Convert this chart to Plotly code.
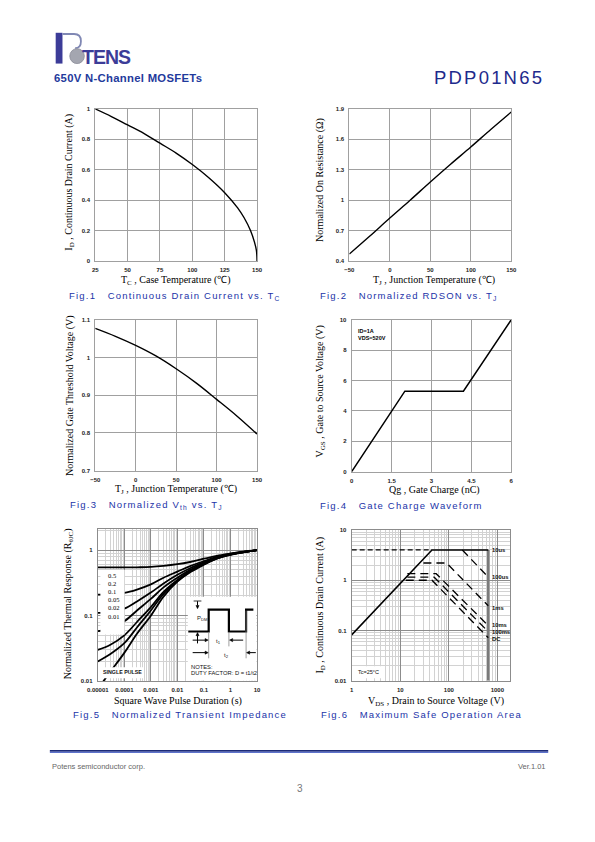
import math
import plotly.graph_objects as go

W, H = 595, 842

# ---------------- data ----------------
# Fig.1  Continuous drain current vs case temperature
TC_CASE = [25, 37.5, 50, 62.5, 75, 87.5, 100, 112.5, 125, 135, 140, 145, 148, 149.5, 150]
ID_CONT = [1.0, 0.95, 0.895, 0.84, 0.775, 0.71, 0.635, 0.55, 0.45, 0.35, 0.285, 0.2, 0.125, 0.07, 0.0]

# Fig.2  Normalized RDSON vs junction temperature
TJ_RDS = [-50, -25, 0, 25, 50, 75, 100, 125, 150]
RDS_NORM = [0.47, 0.645, 0.825, 1.0, 1.18, 1.355, 1.525, 1.70, 1.87]

# Fig.3  Normalized Vth vs junction temperature
TJ_VTH = [-50, -25, 0, 25, 50, 75, 100, 125, 150]
VTH_NORM = [1.077, 1.056, 1.032, 1.004, 0.97, 0.932, 0.889, 0.845, 0.797]

# Fig.4  Gate charge waveform
QG_NC = [0, 2.0, 4.2, 6.0]
VGS_V = [0, 5.3, 5.3, 10.0]

# Fig.5  Normalized transient thermal impedance
PULSE_T = [1e-5, 3e-5, 1e-4, 3e-4, 1e-3, 3e-3, 1e-2, 3e-2, 0.1, 0.3, 1, 3, 10]
ZTH_D050 = [0.545, 0.545, 0.545, 0.548, 0.555, 0.575, 0.61, 0.66, 0.74, 0.82, 0.89, 0.95, 1.0]
ZTH_D020 = [0.21, 0.212, 0.222, 0.25, 0.30, 0.38, 0.47, 0.57, 0.68, 0.79, 0.88, 0.94, 1.0]
ZTH_D010 = [0.11, 0.112, 0.128, 0.165, 0.225, 0.31, 0.42, 0.53, 0.65, 0.77, 0.87, 0.94, 1.0]
ZTH_D005 = [0.058, 0.063, 0.082, 0.12, 0.18, 0.27, 0.38, 0.50, 0.63, 0.76, 0.86, 0.935, 1.0]
ZTH_D002 = [0.030, 0.036, 0.05, 0.08, 0.135, 0.23, 0.35, 0.48, 0.62, 0.75, 0.86, 0.93, 1.0]
ZTH_D001 = [0.020, 0.026, 0.038, 0.066, 0.12, 0.215, 0.34, 0.47, 0.61, 0.745, 0.855, 0.93, 1.0]
SINGLE_T = [1.5e-5, 3e-5, 1e-4, 3e-4, 1e-3, 3e-3, 1e-2, 3e-2, 0.1, 0.3, 1, 3, 10]
ZTH_SINGLE = [0.0095, 0.014, 0.027, 0.053, 0.10, 0.195, 0.33, 0.46, 0.60, 0.74, 0.85, 0.93, 1.0]
DUTY_LABELS = ["0.5", "0.2", "0.1", "0.05", "0.02", "0.01"]
F5_XTICKS = [1e-5, 1e-4, 1e-3, 1e-2, 0.1, 1, 10]
F5_XTEXT = ["0.00001", "0.0001", "0.001", "0.01", "0.1", "1", "10"]
F5_YTICKS = [0.01, 0.1, 1]
F5_YTEXT = ["0.01", "0.1", "1"]

# Fig.6  Maximum safe operating area
SOA_LIMIT_V = [1, 45, 650]
SOA_LIMIT_I = [0.082, 4.0, 4.0]
SOA_BV_V = [650, 650]
SOA_BV_I = [4.0, 0.01]
SOA_10US_V = [1, 45]
SOA_10US_I = [4.0, 4.0]
SOA_100US_V = [190, 650]
SOA_100US_I = [4.0, 1.15]
SOA_1MS_V = [30, 90, 650]
SOA_1MS_I = [2.2, 2.2, 0.31]
SOA_10MS_V = [14, 55, 650]
SOA_10MS_I = [1.35, 1.35, 0.125]
SOA_100MS_V = [14, 50, 650]
SOA_100MS_I = [1.15, 1.15, 0.095]
SOA_DC_V = [13, 45, 650]
SOA_DC_I = [1.0, 1.0, 0.072]
SOA_LABELS = ["10us", "100us", "1ms", "10ms", "100ms", "DC"]
SOA_LABEL_I = [4.0, 1.15, 0.28, 0.127, 0.094, 0.067]
SOA_LABEL_V = 700
F6_XTICKS = [1, 10, 100, 1000]
F6_XTEXT = ["1", "10", "100", "1000"]
F6_YTICKS = [0.01, 0.1, 1, 10]
F6_YTEXT = ["0.01", "0.1", "1", "10"]

# ---------------- helpers ----------------
def px(x):
    return x / W


def py(y):
    return 1 - y / H


BLUE = "#2233a8"
NAVY = "#1e2a8c"
LOGO = "#3c3c98"
GRID = "#a0a0a0"
TICKFONT = dict(family="Liberation Sans", size=6, color="#222222", weight="bold")
SERIF = "Liberation Serif"
SANS = "Liberation Sans"

fig = go.Figure()

# traces
fig.add_trace(go.Scatter(x=TC_CASE, y=ID_CONT, mode="lines", line=dict(color="black", width=1.4, shape="spline"),
                         xaxis="x", yaxis="y", showlegend=False))
fig.add_trace(go.Scatter(x=TJ_RDS, y=RDS_NORM, mode="lines", line=dict(color="black", width=1.4, shape="spline"),
                         xaxis="x2", yaxis="y2", showlegend=False))
fig.add_trace(go.Scatter(x=TJ_VTH, y=VTH_NORM, mode="lines", line=dict(color="black", width=1.4, shape="spline"),
                         xaxis="x3", yaxis="y3", showlegend=False))
fig.add_trace(go.Scatter(x=QG_NC, y=VGS_V, mode="lines", line=dict(color="black", width=1.5),
                         xaxis="x4", yaxis="y4", showlegend=False))

for ys in [ZTH_D050, ZTH_D020, ZTH_D010, ZTH_D005, ZTH_D002, ZTH_D001]:
    fig.add_trace(go.Scatter(x=PULSE_T, y=ys, mode="lines", line=dict(color="black", width=1.8, shape="spline"),
                             xaxis="x5", yaxis="y5", showlegend=False))
fig.add_trace(go.Scatter(x=SINGLE_T, y=ZTH_SINGLE, mode="lines", line=dict(color="black", width=1.8, shape="spline"),
                         xaxis="x5", yaxis="y5", showlegend=False))

fig.add_trace(go.Scatter(x=SOA_BV_V, y=SOA_BV_I, mode="lines", line=dict(color="#7a7a7a", width=2.6),
                         xaxis="x6", yaxis="y6", showlegend=False))
fig.add_trace(go.Scatter(x=SOA_LIMIT_V, y=SOA_LIMIT_I, mode="lines", line=dict(color="black", width=1.5),
                         xaxis="x6", yaxis="y6", showlegend=False))
fig.add_trace(go.Scatter(x=SOA_10US_V, y=SOA_10US_I, mode="lines", line=dict(color="black", width=1.3, dash="5px,3px"),
                         xaxis="x6", yaxis="y6", showlegend=False))
for xs, ys in [(SOA_100US_V, SOA_100US_I), (SOA_1MS_V, SOA_1MS_I), (SOA_10MS_V, SOA_10MS_I),
               (SOA_100MS_V, SOA_100MS_I), (SOA_DC_V, SOA_DC_I)]:
    fig.add_trace(go.Scatter(x=xs, y=ys, mode="lines", line=dict(color="black", width=1.3, dash="8px,5px"),
                             xaxis="x6", yaxis="y6", showlegend=False))

# ---------------- axes ----------------
def lin_axis(a0, a1, rng, dtick, tick0, anchor, horizontal=True):
    d = dict(range=rng, dtick=dtick, tick0=tick0, showgrid=True, gridcolor=GRID, gridwidth=1,
             zeroline=False, showline=True, mirror=True, linecolor=GRID, linewidth=1,
             ticks="", tickfont=TICKFONT, anchor=anchor, ticklabelstandoff=3)
    d["domain"] = [px(a0), px(a1)] if horizontal else [py(a1), py(a0)]
    return d


def minor_vals(decades):
    out = []
    for d in decades:
        for k in range(2, 10):
            out.append(k * 10 ** d)
    return out


def log_axis(a0, a1, rng, tv, tt, minors, anchor, horizontal=True):
    d = dict(type="log", range=rng, tickmode="array", tickvals=tv, ticktext=tt, showgrid=True,
             gridcolor="#8c8c8c", gridwidth=1, zeroline=False, showline=True, mirror=True,
             linecolor="#8c8c8c", linewidth=1, ticks="", tickfont=TICKFONT, anchor=anchor,
             ticklabelstandoff=3,
             minor=dict(tickvals=minors, showgrid=True, gridcolor="#d2d2d2", gridwidth=0.8, ticks=""))
    d["domain"] = [px(a0), px(a1)] if horizontal else [py(a1), py(a0)]
    return d


layout_axes = dict(
    xaxis=lin_axis(86.7, 253.3, [25, 150], 25, 25, "y"),
    yaxis=lin_axis(106.7, 260, [0, 1], 0.2, 0, "x", horizontal=False),
    xaxis2=lin_axis(348.3, 515, [-50, 150], 50, -50, "y2"),
    yaxis2=lin_axis(106.7, 260, [0.4, 1.9], 0.3, 0.4, "x2", horizontal=False),
    xaxis3=lin_axis(86.7, 253.3, [-50, 150], 50, -50, "y3"),
    yaxis3=lin_axis(319, 471, [0.7, 1.1], 0.1, 0.7, "x3", horizontal=False),
    xaxis4=lin_axis(350.7, 515, [0, 6], 1.5, 0, "y4"),
    yaxis4=lin_axis(319, 472, [0, 10], 2, 0, "x4", horizontal=False),
    xaxis5=log_axis(89.3, 253.3, [-5, 1], F5_XTICKS, F5_XTEXT, minor_vals(range(-5, 1)), "y5"),
    yaxis5=log_axis(530, 683, [-2, 0.32], F5_YTICKS, F5_YTEXT, minor_vals(range(-2, 1)), "x5", horizontal=False),
    xaxis6=log_axis(350.7, 514, [0, math.log10(1850)], F6_XTICKS, F6_XTEXT, minor_vals(range(0, 4)), "y6"),
    yaxis6=log_axis(530.7, 682.7, [-2, 1], F6_YTICKS, F6_YTEXT, minor_vals(range(-2, 1)), "x6", horizontal=False),
)

annotations = []
shapes = []


def ann(text, x, y, size=10, family=SANS, color="black", xanchor="center", yanchor="middle", angle=0,
        weight="normal", **kw):
    a = dict(text=text, x=px(x), y=py(y), xref="paper", yref="paper", showarrow=False,
             font=dict(size=size, family=family, color=color, weight=weight), xanchor=xanchor, yanchor=yanchor,
             textangle=angle)
    a.update(kw)
    annotations.append(a)


def rect(x0, y0, x1, y1, fill="white", line=None, layer="above"):
    shapes.append(dict(type="rect", xref="paper", yref="paper", x0=px(x0), x1=px(x1), y0=py(y1), y1=py(y0),
                       fillcolor=fill, line=dict(width=0) if line is None else line, layer=layer))


def seg(x0, y0, x1, y1, color="black", width=1):
    shapes.append(dict(type="line", xref="paper", yref="paper", x0=px(x0), x1=px(x1), y0=py(y0), y1=py(y1),
                       line=dict(color=color, width=width), layer="above"))


def path(points, color="black", width=1, fill=None, close=False):
    d = "M " + " L ".join(f"{px(a):.5f},{py(b):.5f}" for a, b in points) + (" Z" if close else "")
    s = dict(type="path", xref="paper", yref="paper", path=d, line=dict(color=color, width=width), layer="above")
    if fill:
        s["fillcolor"] = fill
    shapes.append(s)


def arrow(hx, hy, tx, ty, head=3.2, half=1.6):
    # line from tail to head, plus a filled triangular head
    L = math.hypot(hx - tx, hy - ty)
    ux, uy = (hx - tx) / L, (hy - ty) / L
    bx, by = hx - ux * head, hy - uy * head
    seg(tx, ty, bx, by, width=1)
    path([(hx, hy), (bx - uy * half, by + ux * half), (bx + uy * half, by - ux * half)],
         width=0.5, fill="black", close=True)


# ---------------- header ----------------
rect(46, 30, 53, 61, fill=LOGO)
shapes.append(dict(type="path", xref="paper", yref="paper",
                   path=f"M {px(53)},{py(31.2)} L {px(65)},{py(31.2)} Q {px(72)},{py(31.2)} {px(72)},{py(38.5)} "
                        f"Q {px(72)},{py(45.5)} {px(66)},{py(45.5)}",
                   line=dict(color="#8088b4", width=1.8), layer="above"))
shapes.append(dict(type="circle", xref="paper", yref="paper", x0=px(60.5), x1=px(75.5), y0=py(61), y1=py(46),
                   fillcolor="#a4a6b0", line=dict(color="#8a8c98", width=0.8), layer="above"))
ann('<span style="letter-spacing:-1px">TENS</span>', 98, 54, size=19.5, family=SANS, color=LOGO, weight="bold")
ann('<span style="letter-spacing:0.3px">650V N-Channel MOSFETs</span>', 120.5, 76, size=11.3,
    color="#1f3a9c", weight="bold")
ann('<span style="letter-spacing:2.2px">PDP01N65</span>', 492.5, 75, size=18.5, color=NAVY)

# ---------------- footer ----------------
seg(40, 753.2, 553, 753.2, color="#1c2a78", width=1.6)
seg(40, 754.8, 553, 754.8, color="#5d72cc", width=1.4)
ann("Potens semiconductor corp.", 40, 769, size=7.5, color="#666666", xanchor="left")
ann("Ver.1.01", 553, 769, size=7.5, color="#666666", xanchor="right")
ann("3", 297.5, 791, size=10, color="#777777")

# ---------------- axis titles ----------------
TS = 10
ann("I<sub>D</sub> , Continuous Drain Current (A)", 60.7, 180, size=TS, family=SERIF, angle=-90)
ann("T<sub>C</sub> , Case Temperature (℃)", 170, 279, size=TS, family=SERIF)
ann("Normalized On Resistance (Ω)", 318.3, 178, size=TS, family=SERIF, angle=-90)
ann("T<sub>J</sub> , Junction Temperature (℃)", 435, 279, size=TS, family=SERIF)
ann("Normalized Gate Threshold Voltage (V)", 60, 395.5, size=TS, family=SERIF, angle=-90)
ann("T<sub>J</sub> , Junction Temperature (℃)", 170, 490, size=TS, family=SERIF)
ann("V<sub>GS</sub> , Gate to Source Voltage (V)", 318.3, 391, size=TS, family=SERIF, angle=-90)
ann("Qg , Gate Charge (nC)", 436, 490, size=TS, family=SERIF)
ann("Normalized Thermal Response (R<sub>θJC</sub>)", 59.3, 605, size=TS, family=SERIF, angle=-90)
ann("Square Wave Pulse Duration (s)", 172, 703.3, size=TS, family=SERIF)
ann("I<sub>D</sub> , Continuous Drain Current (A)", 318.3, 606.7, size=TS, family=SERIF, angle=-90)
ann("V<sub>DS</sub> , Drain to Source Voltage (V)", 438, 703.3, size=TS, family=SERIF)

# ---------------- captions ----------------
CAP = 9.5
SP = "\u00a0\u00a0\u00a0"


def cap(text, xc, y):
    ann(f'<span style="letter-spacing:1.2px">{text}</span>', xc, y, size=CAP, color=BLUE)


cap(f"Fig.1{SP}Continuous Drain Current vs. T<sub>C</sub>", 168, 295.5)
cap(f"Fig.2{SP}Normalized RDSON vs. T<sub>J</sub>", 410, 295)
cap(f"Fig.3{SP}Normalized V<sub>th</sub> vs. T<sub>J</sub>", 139, 506)
cap(f"Fig.4{SP}Gate Charge Waveform", 401.7, 506)
cap(f"Fig.5{SP}Normalized Transient Impedance", 173.7, 716.7)
cap(f"Fig.6{SP}Maximum Safe Operation Area", 422.5, 716.7)

# ---------------- Fig.4 notes ----------------
ann("ID=1A", 355, 330, size=5.5, xanchor="left", weight="bold")
ann("VDS=520V", 355, 337.3, size=5.5, xanchor="left", weight="bold")

# ---------------- Fig.5 legend box and inset ----------------
rect(92, 571, 117, 636)
for i, lab in enumerate(DUTY_LABELS):
    ann(lab, 98.3, 576.5 + i * 8.2, size=6.5, family=SERIF, xanchor="left")
rect(94, 669, 136, 680)
ann("SINGLE PULSE", 115, 674.3, size=5.3, color="#111111", weight="bold")

rect(182, 598, 252.6, 682.6)
path([(182.5, 633), (203.5, 633), (203.5, 611), (224.3, 611), (224.3, 633), (242, 633), (242, 611), (249.5, 611)],
     width=2.2)
seg(203.5, 634, 203.5, 660, color="#888888", width=0.8)
seg(224.3, 634, 224.3, 648, color="#888888", width=0.8)
seg(242, 612, 242, 660, color="#888888", width=0.8)
seg(188, 602.3, 196, 602.3, color="black", width=0.8)
arrow(192, 610, 192, 602.5)
arrow(192, 634, 192, 645)
ann("P<sub>DM</sub>", 197, 619.5, size=6, color="#222222")
arrow(203, 641.7, 187, 641.7)
arrow(225, 641.7, 239, 641.7)
ann("t<sub>1</sub>", 213.3, 643.3, size=6, color="#222222")
arrow(203, 654.3, 187, 654.3)
arrow(242.5, 654.3, 252, 654.3)
ann("t<sub>2</sub>", 221.7, 656.7, size=6, color="#222222")
ann("NOTES:", 183.3, 668.3, size=5.8, color="#111111", xanchor="left")
ann("DUTY FACTOR: D = t1/t2", 183.3, 675.3, size=5.8, color="#111111", xanchor="left")

# ---------------- Fig.6 labels ----------------
for lab, iv in zip(SOA_LABELS, SOA_LABEL_I):
    annotations.append(dict(text=lab, x=math.log10(SOA_LABEL_V), y=math.log10(iv), xref="x6", yref="y6",
                            showarrow=False, xanchor="left", yanchor="middle",
                            font=dict(size=5.8, family=SANS, color="#111111", weight="bold")))
rect(352, 668, 384, 680)
ann("Tc=25°C", 355, 674, size=5.5, xanchor="left", color="#111111")

fig.update_layout(
    width=W, height=H, margin=dict(l=0, r=0, t=0, b=0, pad=0),
    paper_bgcolor="white", plot_bgcolor="white", showlegend=False,
    annotations=annotations, shapes=shapes, **layout_axes,
)

fig.write_html("out.html", post_script="document.body.style.margin='0';",
               config={"displayModeBar": False})
